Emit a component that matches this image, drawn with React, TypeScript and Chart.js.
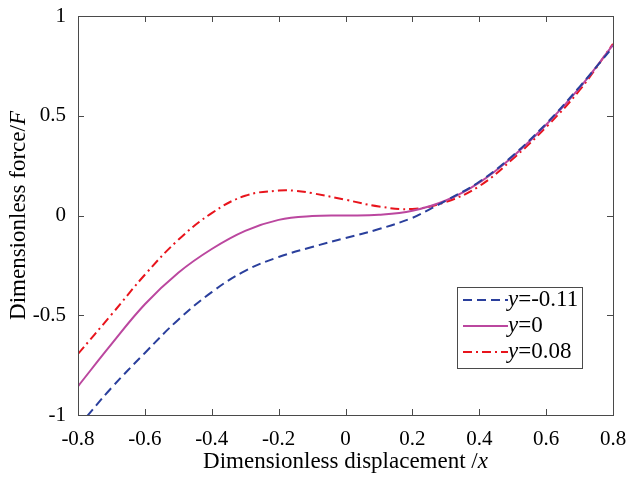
import React, { useEffect, useRef } from "react";
import { Chart, registerables } from "chart.js";

Chart.register(...registerables);

// y = -0.11 (blue dashed)
const xBlue = [-0.8, -0.7, -0.6, -0.5, -0.4, -0.3, -0.2, -0.1, 0, 0.1, 0.2, 0.25, 0.3, 0.4, 0.5, 0.6, 0.7, 0.8];
const yBlue = [-1.06, -0.864, -0.689, -0.522, -0.384, -0.277, -0.208, -0.158, -0.113, -0.068, -0.012, 0.03, 0.074, 0.169, 0.3, 0.46, 0.645, 0.845];

// y = 0 (magenta solid)
const xMagenta = [-0.8, -0.7, -0.6, -0.5, -0.4, -0.3, -0.2, -0.1, 0, 0.1, 0.2, 0.3, 0.4, 0.5, 0.6, 0.7, 0.8];
const yMagenta = [-0.856, -0.645, -0.445, -0.287, -0.168, -0.077, -0.022, -0.003, 0, 0.004, 0.024, 0.075, 0.165, 0.295, 0.455, 0.64, 0.855];

// y = 0.08 (red dash-dot)
const xRed = [-0.8, -0.7, -0.6, -0.5, -0.4, -0.3, -0.2, -0.15, -0.1, 0, 0.1, 0.2, 0.3, 0.4, 0.5, 0.6, 0.7, 0.8];
const yRed = [-0.694, -0.497, -0.297, -0.122, 0.012, 0.099, 0.125, 0.124, 0.112, 0.079, 0.045, 0.033, 0.068, 0.147, 0.283, 0.443, 0.628, 0.86];

const seriesNames = ["-0.11", "0", "0.08"];
const xTickValues = [-0.8, -0.6, -0.4, -0.2, 0, 0.2, 0.4, 0.6, 0.8];
const yTickValues = [-1, -0.5, 0, 0.5, 1];

const BLUE = "#2a3f9c";
const MAGENTA = "#bb479f";
const RED = "#e8141c";
const AXIS = "#4a4a4a";
const FONT = "Liberation Serif";

const toPts = (xs: number[], ys: number[]) => xs.map((x, i) => ({ x, y: ys[i] }));

const framePlugin = {
  id: "frameTicks",
  afterDraw(chart: any) {
    const { ctx, chartArea: a, scales } = chart;
    const xs = scales.x;
    const ys = scales.y;
    ctx.save();
    ctx.strokeStyle = AXIS;
    ctx.lineWidth = 1;
    ctx.setLineDash([]);
    ctx.strokeRect(Math.round(a.left) + 0.5, Math.round(a.top) + 0.5, Math.round(a.right - a.left), Math.round(a.bottom - a.top));
    const tl = 6;
    ctx.beginPath();
    xTickValues.forEach((v) => {
      const p = Math.round(xs.getPixelForValue(v)) + 0.5;
      ctx.moveTo(p, a.bottom);
      ctx.lineTo(p, a.bottom - tl);
      ctx.moveTo(p, a.top);
      ctx.lineTo(p, a.top + tl);
    });
    yTickValues.forEach((v) => {
      const p = Math.round(ys.getPixelForValue(v)) + 0.5;
      ctx.moveTo(a.left, p);
      ctx.lineTo(a.left + tl, p);
      ctx.moveTo(a.right, p);
      ctx.lineTo(a.right - tl, p);
    });
    ctx.stroke();

    // axis titles
    ctx.fillStyle = "#000";
    ctx.textBaseline = "middle";
    const drawMixed = (parts: { t: string; it: boolean }[], cx: number, cy: number, size: number) => {
      let total = 0;
      parts.forEach((p) => {
        ctx.font = `${p.it ? "italic " : ""}${size}px "${FONT}"`;
        total += ctx.measureText(p.t).width;
      });
      let x = cx - total / 2;
      ctx.textAlign = "left";
      parts.forEach((p) => {
        ctx.font = `${p.it ? "italic " : ""}${size}px "${FONT}"`;
        ctx.fillText(p.t, x, cy);
        x += ctx.measureText(p.t).width;
      });
    };
    drawMixed(
      [
        { t: "Dimensionless displacement /", it: false },
        { t: "x", it: true },
      ],
      (a.left + a.right) / 2,
      462,
      23
    );
    ctx.save();
    ctx.translate(19, (a.top + a.bottom) / 2);
    ctx.rotate(-Math.PI / 2);
    drawMixed(
      [
        { t: "Dimensionless force/", it: false },
        { t: "F", it: true },
      ],
      0,
      0,
      23
    );
    ctx.restore();

    // legend
    const bx = 457.5, by = 287.5, bw = 125, bh = 81;
    ctx.fillStyle = "#fff";
    ctx.fillRect(bx, by, bw, bh);
    ctx.strokeStyle = AXIS;
    ctx.lineWidth = 1;
    ctx.strokeRect(bx, by, bw, bh);
    chart.data.datasets.forEach((ds: any, i: number) => {
      const yy = 300 + i * 26;
      ctx.strokeStyle = ds.borderColor;
      ctx.lineWidth = ds.borderWidth;
      ctx.setLineDash(ds.borderDash || []);
      ctx.beginPath();
      ctx.moveTo(463, yy);
      ctx.lineTo(508, yy);
      ctx.stroke();
      ctx.setLineDash([]);
      ctx.fillStyle = "#000";
      ctx.textAlign = "left";
      ctx.font = `italic 23px "${FONT}"`;
      ctx.fillText("y", 508, yy);
      const w = ctx.measureText("y").width;
      ctx.font = `23px "${FONT}"`;
      ctx.fillText("=" + seriesNames[i], 508 + w, yy);
    });
    ctx.restore();
  },
};

export default function App() {
  const ref = useRef<HTMLCanvasElement>(null);
  useEffect(() => {
    document.body.style.margin = "0";
    const chart = new Chart(ref.current!, {
      type: "line",
      data: {
        datasets: [
          {
            label: "y=-0.11",
            data: toPts(xBlue, yBlue),
            borderColor: BLUE,
            borderWidth: 2,
            borderDash: [9, 5],
            pointRadius: 0,
            tension: 0.4,
          },
          {
            label: "y=0",
            data: toPts(xMagenta, yMagenta),
            borderColor: MAGENTA,
            borderWidth: 2,
            pointRadius: 0,
            tension: 0.4,
          },
          {
            label: "y=0.08",
            data: toPts(xRed, yRed),
            borderColor: RED,
            borderWidth: 2,
            borderDash: [9, 4, 2, 4],
            pointRadius: 0,
            tension: 0.4,
          },
        ],
      },
      options: {
        responsive: false,
        animation: false,
        layout: { padding: { top: 16, right: 14, left: 0, bottom: 0 } },
        plugins: { legend: { display: false }, tooltip: { enabled: false } },
        scales: {
          x: {
            type: "linear",
            min: -0.8,
            max: 0.8,
            grid: { display: false },
            border: { display: false },
            afterFit: (s: any) => {
              s.height = 62;
              s.paddingLeft = 0;
              s.paddingRight = 0;
            },
            afterBuildTicks: (s: any) => {
              s.ticks = xTickValues.map((v) => ({ value: v }));
            },
            ticks: {
              color: "#000",
              padding: 4,
              maxRotation: 0,
              autoSkip: false,
              font: { family: FONT, size: 21 },
              callback: (v: any) => String(Number(Number(v).toFixed(1))),
            },
          },
          y: {
            type: "linear",
            min: -1,
            max: 1,
            grid: { display: false },
            border: { display: false },
            afterFit: (s: any) => {
              s.width = 78;
              s.paddingTop = 0;
              s.paddingBottom = 0;
            },
            afterBuildTicks: (s: any) => {
              s.ticks = yTickValues.map((v) => ({ value: v }));
            },
            ticks: {
              color: "#000",
              padding: 4,
              autoSkip: false,
              font: { family: FONT, size: 21 },
              callback: (v: any) => String(Number(Number(v).toFixed(1))),
            },
          },
        },
      },
      plugins: [framePlugin],
    } as any);
    return () => chart.destroy();
  }, []);
  return (
    <div style={{ width: 627, height: 477, background: "#fff" }}>
      <canvas ref={ref} width={627} height={477} />
    </div>
  );
}
